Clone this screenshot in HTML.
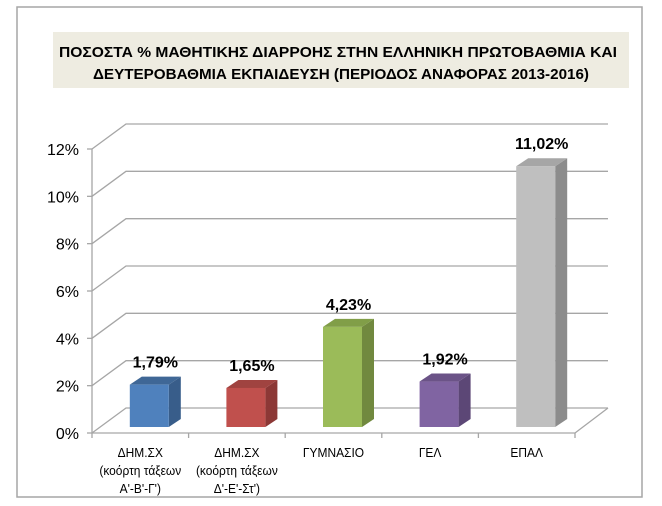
<!DOCTYPE html>
<html><head><meta charset="utf-8"><style>
body{margin:0;background:#fff;}
svg{display:block;font-family:"Liberation Sans",sans-serif;}
</style></head><body>
<svg id="chart" width="662" height="506" viewBox="0 0 662 506" xmlns="http://www.w3.org/2000/svg">
<rect x="17" y="7" width="625" height="490" fill="#fff" stroke="#a6a6a6" stroke-width="1.5"/>
<rect x="53" y="32" width="576" height="56" fill="#eeece1"/>
<text x="338" y="57" text-anchor="middle" font-size="15" font-weight="bold" textLength="558" lengthAdjust="spacingAndGlyphs">ΠΟΣΟΣΤΑ % ΜΑΘΗΤΙΚΗΣ ΔΙΑΡΡΟΗΣ ΣΤΗΝ ΕΛΛΗΝΙΚΗ ΠΡΩΤΟΒΑΘΜΙΑ ΚΑΙ</text>
<text x="341" y="79" text-anchor="middle" font-size="15" font-weight="bold" textLength="496" lengthAdjust="spacingAndGlyphs">ΔΕΥΤΕΡΟΒΑΘΜΙΑ ΕΚΠΑΙΔΕΥΣΗ (ΠΕΡΙΟΔΟΣ ΑΝΑΦΟΡΑΣ 2013-2016)</text>
<g id="grid"></g>
<g id="bars"></g>
<g id="labels"></g>
</svg>
<script>
const categories = [["ΔΗΜ.ΣΧ","(κοόρτη τάξεων","Α'-Β'-Γ')"],["ΔΗΜ.ΣΧ","(κοόρτη τάξεων","Δ'-Ε'-Στ')"],["ΓΥΜΝΑΣΙΟ"],["ΓΕΛ"],["ΕΠΑΛ"]];
const values = [1.79, 1.65, 4.23, 1.92, 11.02];
const valueLabels = ["1,79%","1,65%","4,23%","1,92%","11,02%"];
const ticks = [0, 2, 4, 6, 8, 10, 12];
const tickLabels = ["0%","2%","4%","6%","8%","10%","12%"];
const colors = [["#4f81bd","#385d8a","#3f6796"],["#c0504d","#8c3836","#a04340"],["#9bbb59","#71893f","#819e48"],["#8064a2","#5c4776","#6b5387"],["#bfbfbf","#8c8c8c","#a6a6a6"]];

const NS="http://www.w3.org/2000/svg";
const X0=92, X1=575, Y0=433, YTOP=149, DX=34, DY=-25, MAXV=12;
const y = v => Y0 - (v/MAXV)*(Y0-YTOP);
const catW = (X1-X0)/categories.length;
const xc = i => X0 + catW*(i+0.5);
function mk(tag, attrs, parent){const e=document.createElementNS(NS,tag);for(const k in attrs)e.setAttribute(k,attrs[k]);parent.appendChild(e);return e;}
const grid=document.getElementById('grid'), bars=document.getElementById('bars'), labels=document.getElementById('labels');

ticks.forEach((t,i)=>{
  const yy=y(t);
  const g=mk('polyline',{points:`${X0},${yy} ${X0+DX},${yy+DY} ${X1+DX-1},${yy+DY}`,fill:'none',stroke:'#a6a6a6','stroke-width':1.3},grid);
  
  
  const tk=mk('line',{x1:X0-5,y1:yy,x2:X0,y2:yy,stroke:'#a6a6a6','stroke-width':1.3},grid);
  
  
  const tl=mk('text',{x:X0-13,y:yy+6,'text-anchor':'end','font-size':16,fill:'#000'},labels);
  tl.textContent=tickLabels[i];
  
  
});
const ax=mk('line',{x1:X0,y1:Y0,x2:X0,y2:y(MAXV),stroke:'#a6a6a6','stroke-width':1.3},grid);


const fl=mk('polyline',{points:`${X0},${Y0} ${X1},${Y0} ${X1+DX-1},${Y0+DY}`,fill:'none',stroke:'#a6a6a6','stroke-width':1.3},grid);


for(let i=0;i<=categories.length;i++){
  const xx=X0+catW*i;
  const t=mk('line',{x1:xx,y1:Y0,x2:xx,y2:Y0+5,stroke:'#a6a6a6','stroke-width':1.3},grid);
  
  
}

const BW=39, BDX=12, BDY=-8, SHIFT=9, BASE=-6;
values.forEach((v,i)=>{
  const left=xc(i)+SHIFT-BW/2, right=left+BW, bot=Y0+BASE, top=y(v)+BASE;
  const c=colors[i];
  const g=mk('g',{},bars);
  
  
  mk('polygon',{points:`${right},${top} ${right+BDX},${top+BDY} ${right+BDX},${bot+BDY} ${right},${bot}`,fill:c[1]},g);
  mk('polygon',{points:`${left},${top} ${left+BDX},${top+BDY} ${right+BDX},${top+BDY} ${right},${top}`,fill:c[2]},g);
  mk('rect',{x:left,y:top,width:BW,height:bot-top,fill:c[0]},g);
  const t=mk('text',{x:left+BW/2+6,y:top-17,'text-anchor':'middle','font-size':16,'font-weight':'bold',fill:'#000'},labels);
  t.textContent=valueLabels[i];
  
  
  categories[i].forEach((ln,j)=>{
    const ct=mk('text',{x:xc(i),y:Y0+24+j*18,'text-anchor':'middle','font-size':13,fill:'#000',transform:`translate(${xc(i)},0) scale(0.92,1) translate(${-xc(i)},0)`},labels);
    ct.textContent=ln;
    
    
  });
});
</script>
</body></html>
